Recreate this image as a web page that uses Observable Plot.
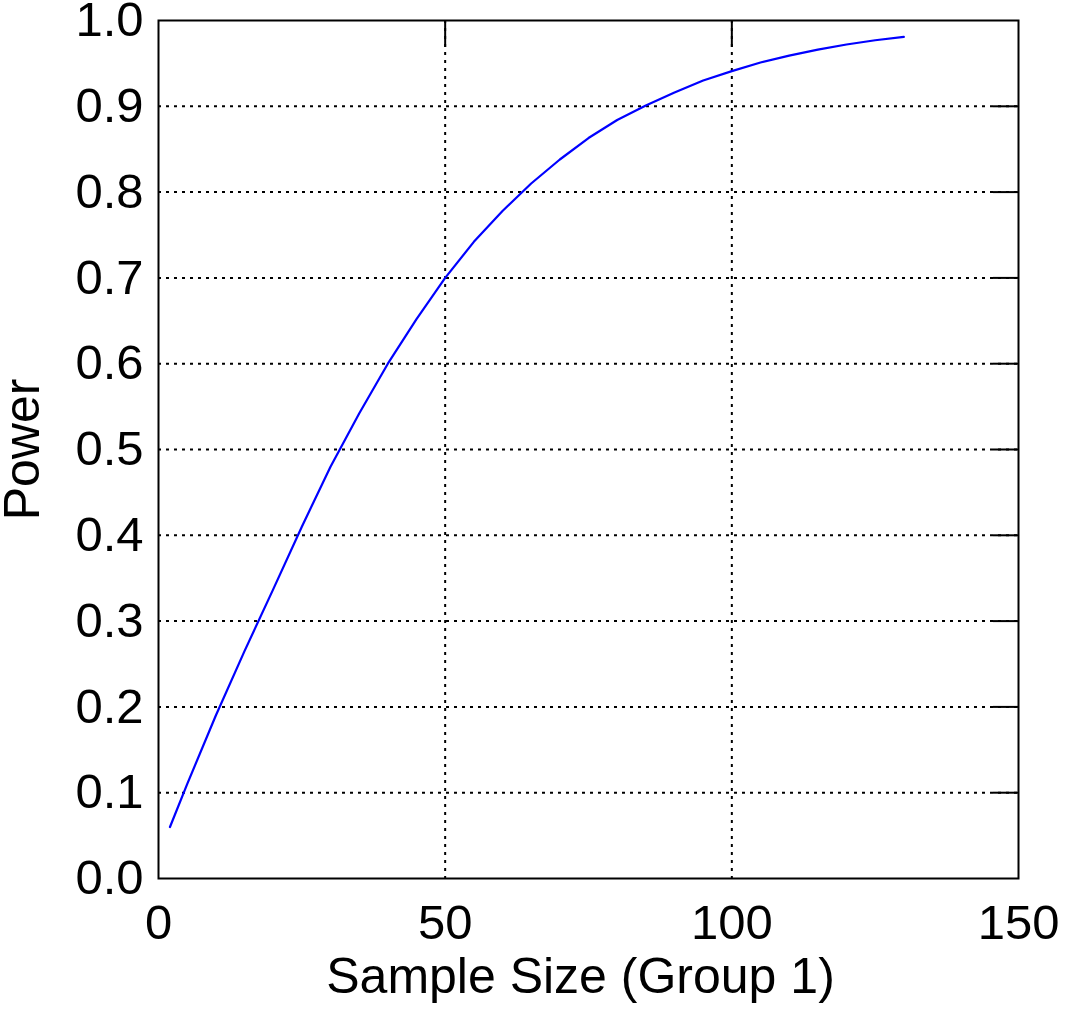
<!DOCTYPE html>
<html><head><meta charset="utf-8">
<script src="https://cdn.jsdelivr.net/npm/d3@7"></script>
<script src="https://cdn.jsdelivr.net/npm/@observablehq/plot@0.6"></script>
<style>body{margin:0;background:#fff}</style>
</head><body><div id="chart"></div>
<script>
const sampleSize = [2, 5, 10, 15, 20, 25, 30, 35, 40, 45, 50, 55, 60, 65, 70, 75, 80, 85, 90, 95, 100, 105, 110, 115, 120, 125, 130];
const power = [0.06, 0.11, 0.19, 0.265, 0.337, 0.41, 0.48, 0.542, 0.60, 0.652, 0.70, 0.742, 0.778, 0.81, 0.838, 0.863, 0.884, 0.901, 0.916, 0.93, 0.941, 0.951, 0.959, 0.966, 0.972, 0.977, 0.981];
const xTicks = [0, 50, 100, 150];
const yTicks = [0, 0.1, 0.2, 0.3, 0.4, 0.5, 0.6, 0.7, 0.8, 0.9, 1.0];
const xGrid = [50, 100];
const yGrid = [0.1, 0.2, 0.3, 0.4, 0.5, 0.6, 0.7, 0.8, 0.9];
const xLabel = ["Sample Size (Group 1)"];
const yLabel = ["Power"];

const data = sampleSize.map((n, i) => ({n, p: power[i]}));
const font = "'Liberation Sans', Arial, Helvetica, sans-serif";
const fs = 49;
const fsTitle = 50;
const dotted = {stroke: "#000", strokeOpacity: 1, strokeWidth: 2, strokeDasharray: "3,5"};

const chart = Plot.plot({
  width: 1066, height: 1017,
  marginLeft: 158, marginRight: 48, marginTop: 20, marginBottom: 139,
  style: {fontFamily: font, fontSize: fs + "px", color: "#000", background: "#fff"},
  x: {domain: [0, 150]},
  y: {domain: [0, 1]},
  marks: [
    Plot.gridX(xGrid, dotted),
    Plot.gridY(yGrid, dotted),
    Plot.line(data, {x: "n", y: "p", stroke: "#0000ff", strokeWidth: 2.2}),
    Plot.axisX(xGrid, {anchor: "top", tickSize: 26, dy: 26, strokeWidth: 2, tickFormat: () => "", label: null}),
    Plot.axisY(yGrid, {anchor: "right", tickSize: 26, dx: -26, strokeWidth: 2, tickFormat: () => "", label: null}),
    Plot.frame({stroke: "#000", strokeWidth: 2}),
    Plot.axisX(xTicks, {anchor: "bottom", tickSize: 0, tickPadding: 26, fontSize: fs, label: null}),
    Plot.axisY(yTicks, {anchor: "left", tickSize: 0, tickPadding: 15, fontSize: fs, tickFormat: d => d.toFixed(1), label: null}),
    Plot.text(xLabel, {frameAnchor: "bottom", dy: 79, lineAnchor: "top", textAnchor: "middle", text: d => d, fontSize: fsTitle, dx: -8}),
    Plot.text(yLabel, {frameAnchor: "left", dx: -155, rotate: -90, lineAnchor: "top", textAnchor: "middle", text: d => d, fontSize: fsTitle})
  ]
});
document.getElementById("chart").append(chart);
</script>
</body></html>
